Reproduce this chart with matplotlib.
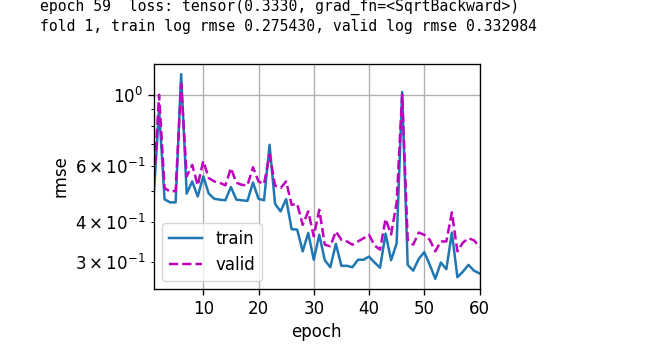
"""
K-fold training curve: train and valid rmse per epoch on a log scale,
with the notebook's printed output above it.
"""

import matplotlib
matplotlib.use('Agg')
import matplotlib.pyplot as plt

# Printed lines from the training loop
log_lines = [
    "epoch 59  loss: tensor(0.3330, grad_fn=<SqrtBackward>)",
    "fold 1, train log rmse 0.275430, valid log rmse 0.332984",
]

# Epochs 1..60
epochs = list(range(1, 61))

# rmse
train_rmse = [0.47, 0.90, 0.47, 0.46, 0.46, 1.16, 0.49, 0.535, 0.48, 0.555,
              0.49, 0.472, 0.469, 0.467, 0.514, 0.469, 0.467, 0.465, 0.531, 0.472,
              0.467, 0.697, 0.455, 0.431, 0.471, 0.379, 0.378, 0.323, 0.369, 0.304,
              0.364, 0.303, 0.288, 0.341, 0.291, 0.291, 0.288, 0.304, 0.304, 0.311,
              0.298, 0.287, 0.367, 0.303, 0.342, 1.02, 0.293, 0.281, 0.306, 0.321,
              0.293, 0.265, 0.298, 0.284, 0.37, 0.268, 0.279, 0.293, 0.281, 0.2754]

valid_rmse = [0.50, 1.00, 0.51, 0.497, 0.50, 1.08, 0.555, 0.603, 0.52, 0.62,
              0.548, 0.535, 0.53, 0.52, 0.589, 0.53, 0.522, 0.52, 0.593, 0.535,
              0.525, 0.649, 0.519, 0.51, 0.535, 0.452, 0.455, 0.391, 0.431, 0.36,
              0.436, 0.339, 0.335, 0.373, 0.351, 0.347, 0.339, 0.347, 0.355, 0.364,
              0.337, 0.327, 0.408, 0.365, 0.46, 1.0, 0.351, 0.339, 0.37, 0.364,
              0.351, 0.323, 0.347, 0.347, 0.428, 0.323, 0.344, 0.355, 0.35, 0.333]

# The chart in the screenshot is drawn about 1.2x larger than matplotlib defaults
scale = 1.2
plt.rcParams['font.size'] = 10 * scale
plt.rcParams['axes.linewidth'] = 0.8 * scale
plt.rcParams['grid.linewidth'] = 0.8 * scale
plt.rcParams['xtick.major.size'] = 3.5 * scale
plt.rcParams['ytick.major.size'] = 3.5 * scale
plt.rcParams['ytick.minor.size'] = 2 * scale
plt.rcParams['xtick.major.width'] = 0.8 * scale
plt.rcParams['ytick.major.width'] = 0.8 * scale
plt.rcParams['ytick.minor.width'] = 0.6 * scale

fig = plt.figure(figsize=(6.5, 3.55), dpi=100)

# Notebook output text at the top
for i, line in enumerate(log_lines):
    fig.text(40 / 650, 1 - (7 + i * 20) / 355, line, family='DejaVu Sans Mono',
             fontsize=10.6, va='center', ha='left', color='black')

# Axes placed where the chart sits in the screenshot
ax = fig.add_axes([0.2362, 0.1859, 0.5015, 0.6338])
ax.plot(epochs, train_rmse, '-', color='#1f77b4', lw=1.5 * scale, label='train')
ax.plot(epochs, valid_rmse, 'm--', lw=1.5 * scale, label='valid')

ax.set_yscale('log')
ax.set_xlim(1, 60)
ax.set_xlabel('epoch')
ax.set_ylabel('rmse')
ax.grid(True)
ax.legend(loc='lower left')

fig.savefig('out.png', dpi=100)
